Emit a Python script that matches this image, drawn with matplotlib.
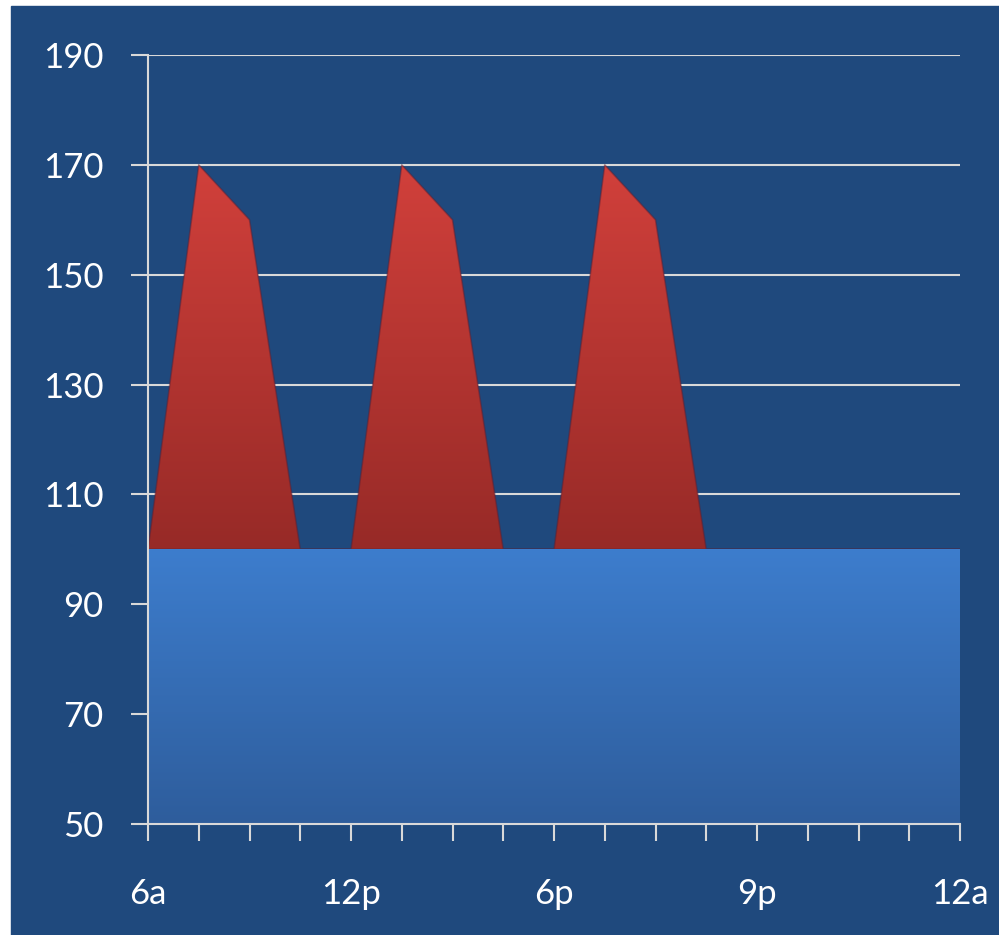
import numpy as np
import matplotlib
matplotlib.use("Agg")
import matplotlib.pyplot as plt
from matplotlib.patches import Rectangle
from matplotlib.colors import LinearSegmentedColormap

# Hourly slots along the x axis (17 points, labelled every 4th slot)
slots = np.arange(17)
tick_labels = ["6a", "12p", "6p", "9p", "12a"]
label_every = 4

# Stacked area series
baseline = [100] * 17
peaks = [0, 70, 60, 0, 0, 70, 60, 0, 0, 70, 60, 0, 0, 0, 0, 0, 0]

y_ticks = [50, 70, 90, 110, 130, 150, 170, 190]

BG = "#1F497D"
GRID = "#D9D9D9"
plt.rcParams["font.family"] = ["Lato", "DejaVu Sans"]

fig = plt.figure(figsize=(9.99, 9.35), dpi=100)
fig.patch.set_facecolor("white")
fig.patches.append(Rectangle((11 / 999, 0), 1, 1 - 6 / 935,
                             transform=fig.transFigure, color=BG, zorder=-10))

ax = fig.add_axes([148 / 999, 1 - 824 / 935, (960 - 148) / 999, (824 - 55) / 935])
ax.set_facecolor("none")
ax.set_xlim(0, 16)
ax.set_ylim(50, 190)

base = np.array(baseline, dtype=float)
top = base + np.array(peaks, dtype=float)


def gradient_fill(coll, y0, y1, c_top, c_bottom, z):
    coll.set_facecolor("none")
    cmap = LinearSegmentedColormap.from_list("g", [c_bottom, c_top])
    grad = np.linspace(0, 1, 256).reshape(-1, 1)
    im = ax.imshow(grad, cmap=cmap, aspect="auto", origin="lower",
                   extent=[0, 16, y0, y1], zorder=z, interpolation="bilinear")
    path = coll.get_paths()[0]
    im.set_clip_path(path, transform=ax.transData)
    ax.set_xlim(0, 16)
    ax.set_ylim(50, 190)


red = ax.fill_between(slots, base, top, linewidth=1.2,
                      edgecolor=(0.35, 0.12, 0.2, 0.45), zorder=3)
gradient_fill(red, 100, 170, "#D1403B", "#972A27", 2)

blue = ax.fill_between(slots, 50, base, linewidth=0, zorder=5)
gradient_fill(blue, 50, 100, "#3D7DCD", "#2E5D9C", 4)

# Grid and axes
ax.set_yticks(y_ticks)
ax.yaxis.grid(True, color=GRID, linewidth=1.5, zorder=1)
ax.set_axisbelow(True)
ax.set_xticks(slots)
ax.set_xticklabels([tick_labels[i // label_every] if i % label_every == 0 else ""
                    for i in slots])

for s in ("top", "right"):
    ax.spines[s].set_visible(False)
for s in ("left", "bottom"):
    ax.spines[s].set_color(GRID)
    ax.spines[s].set_linewidth(1.5)
    ax.spines[s].set_zorder(6)

ax.tick_params(axis="y", length=12, width=1.5, color=GRID, pad=20,
               labelsize=25, labelcolor="white")
ax.tick_params(axis="x", length=12, width=1.5, color=GRID, pad=27,
               labelsize=25, labelcolor="white")

fig.savefig("out.png", dpi=100, facecolor=fig.get_facecolor())
